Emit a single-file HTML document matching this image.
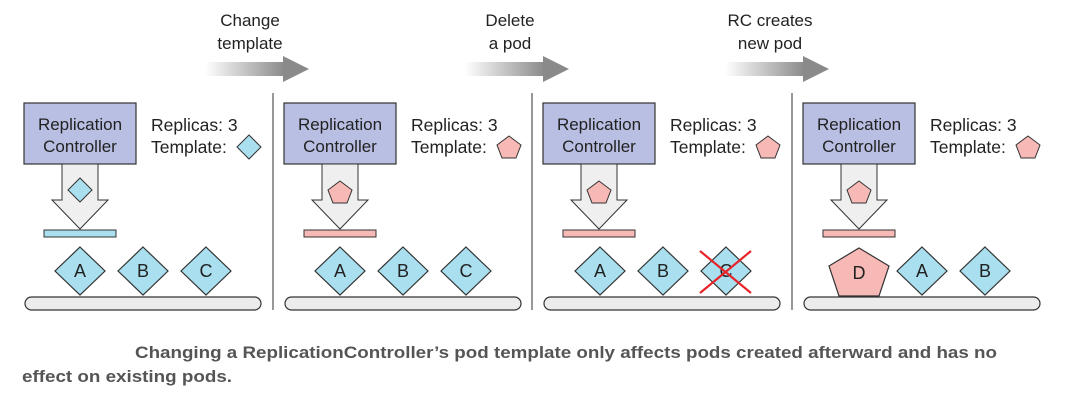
<!DOCTYPE html>
<html><head><meta charset="utf-8"><style>
html,body{margin:0;padding:0;background:#fff;}
svg{display:block;}
text{font-family:"Liberation Sans",sans-serif;fill:#222;}
</style></head><body>
<svg width="1078" height="407" viewBox="0 0 1078 407" xmlns="http://www.w3.org/2000/svg">
<defs>
<linearGradient id="g" x1="0" x2="1" y1="0" y2="0">
<stop offset="0" stop-color="#fff"/><stop offset="1" stop-color="#8a8a8a"/>
</linearGradient>
</defs>
<g>
<rect x="205" y="62" width="80" height="14" fill="url(#g)"/><polygon points="283,56 309,69 283,82" fill="#8a8a8a"/>
<text x="250" y="26" font-size="17" text-anchor="middle">Change</text><text x="250" y="49" font-size="17" text-anchor="middle">template</text>
<rect x="465" y="62" width="80" height="14" fill="url(#g)"/><polygon points="543,56 569,69 543,82" fill="#8a8a8a"/>
<text x="510" y="26" font-size="17" text-anchor="middle">Delete</text><text x="510" y="49" font-size="17" text-anchor="middle">a pod</text>
<rect x="725" y="62" width="80" height="14" fill="url(#g)"/><polygon points="803,56 829,69 803,82" fill="#8a8a8a"/>
<text x="770" y="26" font-size="17" text-anchor="middle">RC creates</text><text x="770" y="49" font-size="17" text-anchor="middle">new pod</text>
</g>
<line x1="273" y1="93" x2="273" y2="310" stroke="#555" stroke-width="1.2"/>
<line x1="532" y1="93" x2="532" y2="310" stroke="#555" stroke-width="1.2"/>
<line x1="792" y1="93" x2="792" y2="310" stroke="#555" stroke-width="1.2"/>

<g id="p1">
<rect x="24" y="103" width="112" height="61" fill="#b8bfe2" stroke="#333" stroke-width="1.2"/>
<text x="80" y="130" font-size="17" text-anchor="middle">Replication</text>
<text x="80" y="152" font-size="17" text-anchor="middle">Controller</text>
<text x="151" y="131" font-size="17.5">Replicas: 3</text>
<text x="151" y="153" font-size="17.5">Template:</text>
<polygon points="62,164 98,164 98,200 108,200 80,229 52,200 62,200" fill="#efefef" stroke="#333" stroke-width="1"/>
<rect x="25" y="297" width="236" height="13" rx="6.5" fill="#ececec" stroke="#333" stroke-width="1.2"/>
</g>
<use href="#p1" transform="translate(260,0)"/>
<use href="#p1" transform="translate(519,0)"/>
<use href="#p1" transform="translate(779,0)"/>

<polygon points="249,135 261,147 249,159 237,147" fill="#a9dfee" stroke="#333"/>
<polygon points="80,178 92,190 80,202 68,190" fill="#a9dfee" stroke="#333"/>
<rect x="44" y="230" width="72" height="7" fill="#a9dfee" stroke="#333"/>

<g id="pent">
<polygon points="509,136 521,145 516,158 502,158 497,145" fill="#f7b9b5" stroke="#333"/>
<polygon points="340,181 352,190 347,203 333,203 328,190" fill="#f7b9b5" stroke="#333"/>
<rect x="304" y="230" width="72" height="7" fill="#f7b9b5" stroke="#333"/>
</g>
<use href="#pent" transform="translate(259,0)"/>
<use href="#pent" transform="translate(519,0)"/>

<g stroke="#333" stroke-width="1.2" fill="#a9dfee">
<polygon points="80,247 105,271 80,295 55,271"/>
<polygon points="143,247 168,271 143,295 118,271"/>
<polygon points="206,247 231,271 206,295 181,271"/>
<polygon points="340,247 365,271 340,295 315,271"/>
<polygon points="403,247 428,271 403,295 378,271"/>
<polygon points="466,247 491,271 466,295 441,271"/>
<polygon points="600,247 625,271 600,295 575,271"/>
<polygon points="663,247 688,271 663,295 638,271"/>
<polygon points="726,247 751,271 726,295 701,271"/>
<polygon points="922,247 947,271 922,295 897,271"/>
<polygon points="985,247 1010,271 985,295 960,271"/>
<polygon points="859,248 889,266 879,296 839,296 829,266" fill="#f7b9b5"/>
</g>
<g font-size="18" text-anchor="middle">
<text x="80" y="277">A</text><text x="143" y="277">B</text><text x="206" y="277">C</text>
<text x="340" y="277">A</text><text x="403" y="277">B</text><text x="466" y="277">C</text>
<text x="600" y="277">A</text><text x="663" y="277">B</text><text x="726" y="277">C</text>
<text x="859" y="279">D</text><text x="922" y="277">A</text><text x="985" y="277">B</text>
</g>
<g stroke="#e8242b" stroke-width="2.2">
<line x1="700" y1="251" x2="751" y2="293"/><line x1="751" y1="251" x2="700" y2="293"/>
</g>

<g font-weight="bold" font-size="17">
<text x="135" y="358" textLength="862" lengthAdjust="spacingAndGlyphs" style="fill:#555">Changing a ReplicationController’s pod template only affects pods created afterward and has no</text>
<text x="22" y="382" textLength="210" lengthAdjust="spacingAndGlyphs" style="fill:#555">effect on existing pods.</text>
</g>
</svg>
</body></html>
